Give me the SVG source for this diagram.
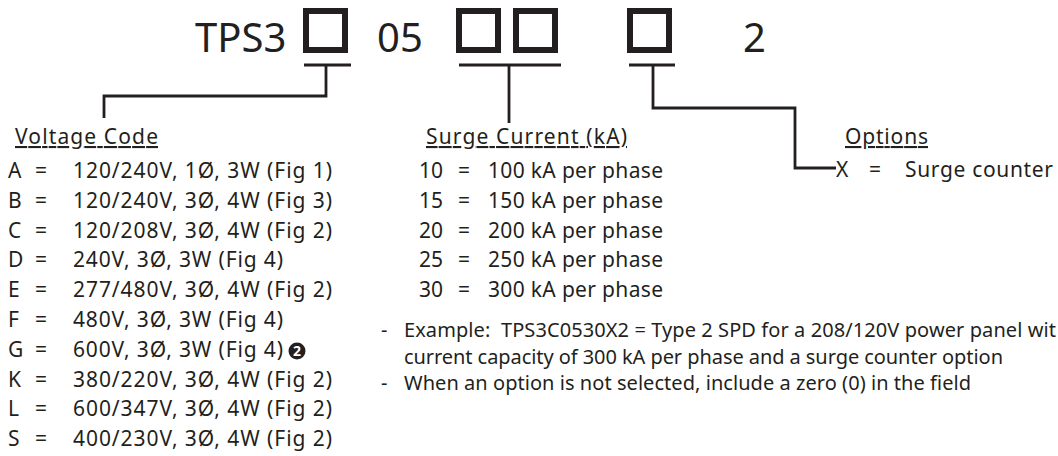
<svg xmlns="http://www.w3.org/2000/svg" width="1058" height="456" viewBox="0 0 1058 456">
<style>
text{font-family:"Noto Sans","Open Sans","DejaVu Sans",sans-serif;fill:#231f20;white-space:pre}
.t{font-size:40px}
.b{font-size:21px}
.n{font-size:20px}
.h{font-size:21px;text-decoration:underline}
.eq{font-size:21px;text-anchor:middle}
.box{fill:none;stroke:#231f20;stroke-width:6}
.ln{fill:none;stroke:#231f20;stroke-width:2.8;stroke-linejoin:miter;stroke-linecap:butt}
</style>
<rect width="1058" height="456" fill="#ffffff"/>
<g id="code">
<text class="t" x="195" y="52">TPS3</text>
<rect class="box" x="306" y="11" width="39" height="39"/>
<text class="t" x="377" y="52">05</text>
<rect class="box" x="459" y="11" width="39" height="39"/>
<rect class="box" x="516" y="11" width="39" height="39"/>
<rect class="box" x="630" y="11" width="39" height="39"/>
<text class="t" x="743" y="52">2</text>
</g>
<g id="connectors">
<path class="ln" d="M304,65 H351 M326,65 V96 H104 V118"/>
<path class="ln" d="M459,65 H561 M509,65 V123"/>
<path class="ln" d="M629,65 H675 M653,65 V108 H795 V168 H836"/>
</g>
<g id="voltage">
<text class="h" x="15" y="144" textLength="143">Voltage Code</text>
<text class="b" x="8" y="178">A</text><text class="eq" x="41" y="178">=</text><text class="b" x="73" y="178" textLength="259">120/240V, 1Ø, 3W (Fig 1)</text>
<text class="b" x="8" y="207.8">B</text><text class="eq" x="41" y="207.8">=</text><text class="b" x="73" y="207.8" textLength="259">120/240V, 3Ø, 4W (Fig 3)</text>
<text class="b" x="8" y="237.6">C</text><text class="eq" x="41" y="237.6">=</text><text class="b" x="73" y="237.6" textLength="259">120/208V, 3Ø, 4W (Fig 2)</text>
<text class="b" x="8" y="267.4">D</text><text class="eq" x="41" y="267.4">=</text><text class="b" x="73" y="267.4" textLength="210">240V, 3Ø, 3W (Fig 4)</text>
<text class="b" x="8" y="297.2">E</text><text class="eq" x="41" y="297.2">=</text><text class="b" x="73" y="297.2" textLength="259">277/480V, 3Ø, 4W (Fig 2)</text>
<text class="b" x="8" y="327">F</text><text class="eq" x="41" y="327">=</text><text class="b" x="73" y="327" textLength="210">480V, 3Ø, 3W (Fig 4)</text>
<text class="b" x="8" y="356.8">G</text><text class="eq" x="41" y="356.8">=</text><text class="b" x="73" y="356.8" textLength="210">600V, 3Ø, 3W (Fig 4)</text>
<text class="b" x="8" y="386.6">K</text><text class="eq" x="41" y="386.6">=</text><text class="b" x="73" y="386.6" textLength="259">380/220V, 3Ø, 4W (Fig 2)</text>
<text class="b" x="8" y="416.4">L</text><text class="eq" x="41" y="416.4">=</text><text class="b" x="73" y="416.4" textLength="259">600/347V, 3Ø, 4W (Fig 2)</text>
<text class="b" x="8" y="446.2">S</text><text class="eq" x="41" y="446.2">=</text><text class="b" x="73" y="446.2" textLength="259">400/230V, 3Ø, 4W (Fig 2)</text>
<circle cx="297" cy="351" r="8.5" fill="#231f20"/>
<text x="297" y="356" text-anchor="middle" style="font-size:14px;font-weight:bold;fill:#ffffff">2</text>
</g>
<g id="surge">
<text class="h" x="426" y="144" textLength="201">Surge Current (kA)</text>
<text class="b" x="419" y="178">10</text><text class="eq" x="464" y="178">=</text><text class="b" x="488" y="178" textLength="175">100 kA per phase</text>
<text class="b" x="419" y="207.8">15</text><text class="eq" x="464" y="207.8">=</text><text class="b" x="488" y="207.8" textLength="175">150 kA per phase</text>
<text class="b" x="419" y="237.6">20</text><text class="eq" x="464" y="237.6">=</text><text class="b" x="488" y="237.6" textLength="175">200 kA per phase</text>
<text class="b" x="419" y="267.4">25</text><text class="eq" x="464" y="267.4">=</text><text class="b" x="488" y="267.4" textLength="175">250 kA per phase</text>
<text class="b" x="419" y="297.2">30</text><text class="eq" x="464" y="297.2">=</text><text class="b" x="488" y="297.2" textLength="175">300 kA per phase</text>
</g>
<g id="options">
<text class="h" x="845" y="144" textLength="83">Options</text>
<text class="b" x="836" y="177">X</text><text class="eq" x="875" y="177">=</text><text class="b" x="905" y="177" textLength="148">Surge counter</text>
</g>
<g id="notes">
<text class="n" x="381" y="337">-</text>
<text class="n" x="404" y="337" textLength="652">Example:  TPS3C0530X2 = Type 2 SPD for a 208/120V power panel wit</text>
<text class="n" x="404" y="364" textLength="599">current capacity of 300 kA per phase and a surge counter option</text>
<text class="n" x="381" y="390">-</text>
<text class="n" x="404" y="390" textLength="567">When an option is not selected, include a zero (0) in the field</text>
</g>
</svg>
